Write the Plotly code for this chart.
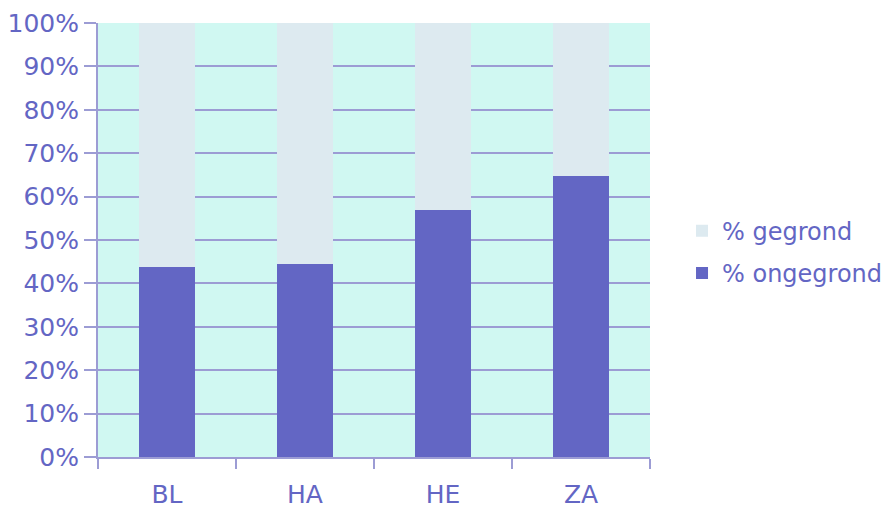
import plotly.graph_objects as go

categories = ["BL", "HA", "HE", "ZA"]
ongegrond = [43.8, 44.5, 56.9, 64.8]
gegrond = [56.2, 55.5, 43.1, 35.2]
y_ticks = [0, 10, 20, 30, 40, 50, 60, 70, 80, 90, 100]
y_tick_labels = [f"{v}%" for v in y_ticks]

dark = "#6366c4"
light = "#ddeaf0"
grid = "#9c9cd4"
font_color = "#6366c4"

fig = go.Figure()
fig.add_trace(go.Bar(x=categories, y=ongegrond, name="% ongegrond", legendgroup="b",
                     legendrank=2,
                     marker=dict(color=dark, line=dict(width=0)), width=0.4))
fig.add_trace(go.Bar(x=categories, y=gegrond, name="% gegrond", legendgroup="a",
                     legendrank=1,
                     marker=dict(color=light, line=dict(width=0)), width=0.4))

fig.update_layout(
    barmode="stack",
    width=893, height=508,
    margin=dict(l=90, r=251, t=15, b=59, autoexpand=False),
    paper_bgcolor="white",
    plot_bgcolor="#d0f8f2",
    font=dict(family="DejaVu Sans", size=25, color=font_color),
    showlegend=True,
    legend=dict(x=1.058, y=0.472, xanchor="left", yanchor="middle",
                font=dict(size=24, color=font_color),
                traceorder="grouped", tracegroupgap=8,
                itemwidth=30),
    xaxis=dict(
        type="category", tickson="boundaries", ticks="outside", ticklen=10,
        tickcolor=grid, tickwidth=2, showline=True, linecolor=grid, linewidth=2,
        showgrid=False, range=[-0.5, 3.5], ticklabelstandoff=14, automargin=False,
        tickfont=dict(size=25, color=font_color),
    ),
    yaxis=dict(
        range=[0, 100], tickvals=y_ticks, ticktext=y_tick_labels,
        ticks="outside", ticklen=12, tickcolor=grid, tickwidth=2,
        showgrid=True, gridcolor=grid, gridwidth=2, automargin=False,
        showline=True, linecolor=grid, linewidth=2, zeroline=False,
        tickfont=dict(size=25, color=font_color),
    ),
)

fig.write_html("out.html")
